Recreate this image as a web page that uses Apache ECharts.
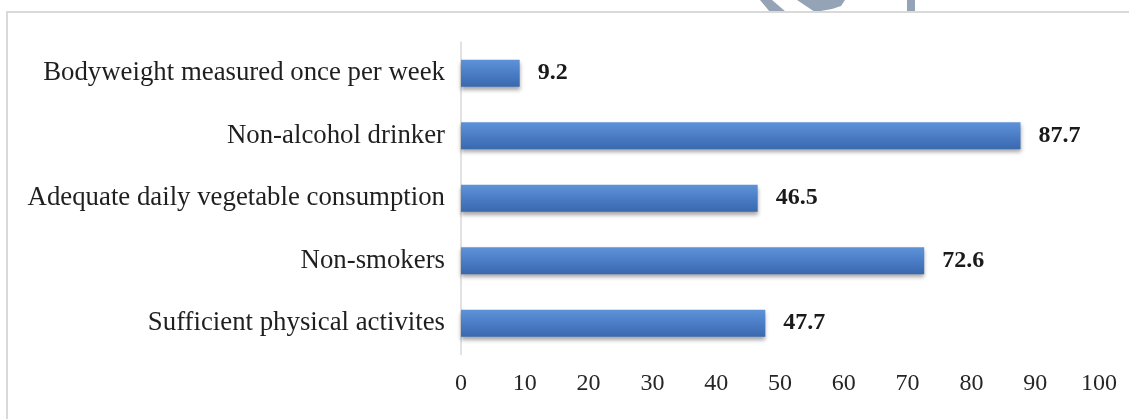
<!DOCTYPE html>
<html>
<head>
<meta charset="utf-8">
<script src="https://cdn.jsdelivr.net/npm/echarts@6/dist/echarts.min.js"></script>
<style>
  html, body { margin: 0; padding: 0; background: #ffffff; }
  #chart { width: 1129px; height: 419px; }
</style>
</head>
<body>
<div id="chart"></div>
<script>
// Health behaviours, percent of respondents (top to bottom as displayed)
const categories = [
  'Sufficient physical activites',
  'Non-smokers',
  'Adequate daily vegetable consumption',
  'Non-alcohol drinker',
  'Bodyweight measured once per week'
];
const percentages = [47.7, 72.6, 46.5, 87.7, 9.2];
const xTicks = [0, 10, 20, 30, 40, 50, 60, 70, 80, 90, 100];

const chart = echarts.init(document.getElementById('chart'), null, { renderer: 'canvas' });

const serif = '"Liberation Serif", "Times New Roman", serif';

chart.setOption({
  animation: false,
  backgroundColor: '#ffffff',
  grid: { left: 461, right: 30, top: 42, bottom: 64.5, containLabel: false },
  xAxis: {
    type: 'value',
    min: xTicks[0],
    max: xTicks[xTicks.length - 1],
    interval: 10,
    axisLine: { show: false },
    axisTick: { show: false },
    splitLine: { show: false },
    axisLabel: {
      margin: 17,
      color: '#262626',
      fontFamily: serif,
      fontSize: 24,
      formatter: v => String(v)
    }
  },
  yAxis: {
    type: 'category',
    data: categories,
    axisLine: { show: true, lineStyle: { color: '#d9d9d9', width: 1.5 } },
    axisTick: { show: false },
    axisLabel: {
      margin: 16,
      color: '#1f1f1f',
      fontFamily: serif,
      fontSize: 26.8
    }
  },
  series: [{
    type: 'bar',
    data: percentages,
    barWidth: 27,
    itemStyle: {
      color: new echarts.graphic.LinearGradient(0, 0, 0, 1, [
        { offset: 0, color: '#5f93d8' },
        { offset: 0.5, color: '#4a7dc6' },
        { offset: 1, color: '#3a68ad' }
      ]),
      shadowColor: 'rgba(0,0,0,0.35)',
      shadowBlur: 4,
      shadowOffsetY: 3
    },
    label: {
      show: true,
      position: 'right',
      distance: 18,
      color: '#1a1a1a',
      fontFamily: serif,
      fontWeight: 'bold',
      fontSize: 24,
      formatter: p => p.value.toFixed(1)
    }
  }],
  graphic: [
    // faint logo fragments above the frame
    {
      type: 'polygon', silent: true, z: 0,
      shape: { points: [[760, 0], [772, 0], [786, 12], [770, 12]] },
      style: { fill: '#94a3b5' }
    },
    {
      type: 'polygon', silent: true, z: 0,
      shape: { points: [[797, 0], [845, 0], [841, 6], [832, 9], [815, 12]] },
      style: { fill: '#94a3b5' }
    },
    {
      type: 'rect', silent: true, z: 0,
      shape: { x: 907, y: 0, width: 8, height: 12 },
      style: { fill: '#94a3b5' }
    },
    // chart frame
    {
      type: 'rect', silent: true, z: 1,
      shape: { x: 7, y: 12, width: 1140, height: 420 },
      style: { fill: 'none', stroke: '#d9d9d9', lineWidth: 2 }
    }
  ]
});
</script>
</body>
</html>
